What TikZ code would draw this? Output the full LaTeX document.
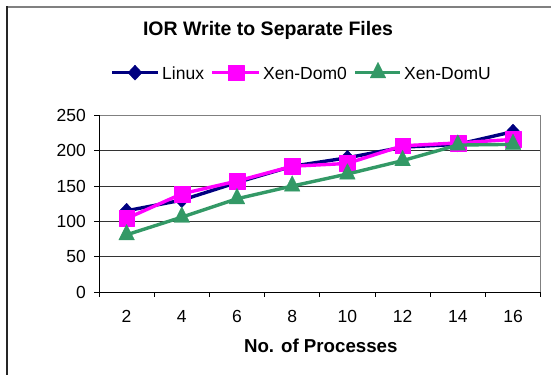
\documentclass[tikz,border=0pt]{standalone}
\usepackage{fontspec}
\setmainfont{Liberation Sans}
\usetikzlibrary{plotmarks}
\definecolor{linuxc}{RGB}{0,0,128}
\definecolor{domzc}{RGB}{255,0,255}
\definecolor{domuc}{RGB}{51,153,102}
\begin{document}
\begin{tikzpicture}[x=1pt,y=1pt,
  ticklab/.style={font=\fontsize{17.5}{20}\selectfont, inner sep=0pt},
  boldlab/.style={font=\bfseries\fontsize{18.7}{22}\selectfont, inner sep=0pt},
  gridline/.style={draw=black!80, line width=0.9pt},
  framegray/.style={draw=black!50, line width=1.2pt},
  axisline/.style={draw=black, line width=1pt},
  series/.style={line width=3.4pt, line join=round},
  linuxs/.style={series, draw=linuxc, mark=diamond*, mark size=7.5pt,
     mark options={fill=linuxc, draw=linuxc, line width=0.4pt, xscale=1.25}},
  domzs/.style={series, draw=domzc, mark=square*, mark size=7.9pt,
     mark options={fill=domzc, draw=domzc, line width=0.4pt}},
  domus/.style={series, draw=domuc, mark=triangle*, mark size=9pt,
     mark options={fill=domuc, draw=domuc, line width=0.4pt, yscale=1.15}}
]
\useasboundingbox (0,0) rectangle (551,375);
\fill[white] (0,0) rectangle (551,375);
% outer border
\draw[draw=black!50, line width=1.5pt] (7,368) -- (551,368);
\draw[draw=black!85, line width=1.5pt] (7,368.75) -- (7,0);
% title
\node[boldlab, font=\bfseries\fontsize{19.5}{23}\selectfont, anchor=base] (title) at (268,339) {IOR Write to Separate Files};
% legend
\draw[linuxs, mark indices={2}] plot coordinates {(112,302.3) (135,302.3) (158,302.3)};
\node[ticklab, anchor=base west] (leglinux) at (162,295.7) {Linux};
\draw[domzs, mark indices={2}] plot coordinates {(212,302.3) (236,302.3) (259,302.3)};
\node[ticklab, anchor=base west] (legdomz) at (263,295.7) {Xen-Dom0};
\draw[domus, mark indices={2}] plot coordinates {(355,302.3) (378,302.3) (400,302.3)};
\node[ticklab, anchor=base west] (legdomu) at (404,295.7) {Xen-DomU};
% chart
\begin{scope}[shift={(99,83)}, x=27.6pt, y=0.7064pt]
  \foreach \v in {50,100,150,200} \draw[gridline] (0,\v) -- (16,\v);
  \draw[framegray] (0,250) -- (16,250) -- (16,0);
  \draw[axisline] (0,250) -- (0,0) -- (16,0);
  \foreach \v in {0,50,...,250} {
    \draw[axisline] (0,\v) -- ++(-5pt,0);
    \node[ticklab, anchor=east] (yl\v) at ([xshift=-13pt]0,\v) {\v};
  }
  \foreach \i in {0,2,...,16} \draw[axisline] (\i,0) -- ++(0,-5pt);
  \foreach \p in {2,4,...,16} {
    \pgfmathtruncatemacro{\xx}{\p-1}
    \node[ticklab, anchor=base] (xl\p) at ([yshift=-30.3pt]\xx,0) {\p};
  }
  \draw[linuxs] plot coordinates {(1,115) (3,130) (5,155) (7,178) (9,190) (11,205) (13,209) (15,227)};
  \draw[domzs] plot coordinates {(1,104) (3,139) (5,157) (7,178) (9,182) (11,207) (13,211) (15,216)};
  \draw[domus] plot coordinates {(1,81) (3,106) (5,132) (7,150) (9,167) (11,186) (13,208) (15,209)};
\end{scope}
\node[boldlab, anchor=base] (xtitle) at (320.8,22.3) {No. of Processes};
\end{tikzpicture}
\end{document}
